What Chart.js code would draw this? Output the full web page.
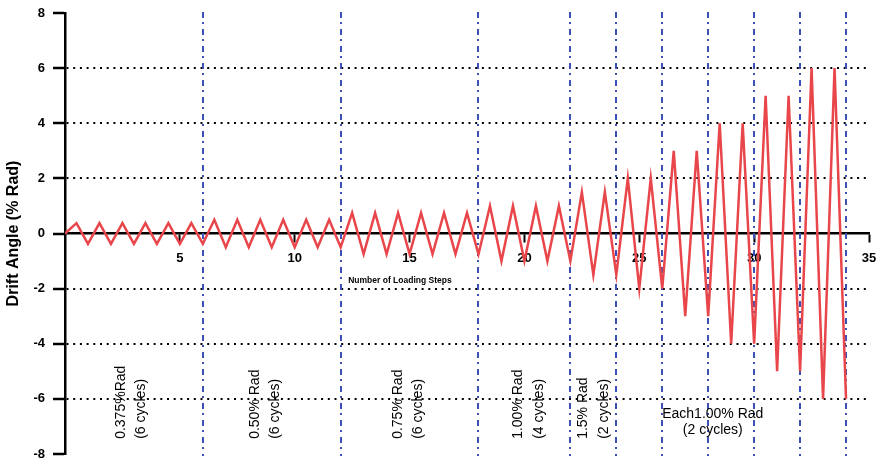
<!DOCTYPE html>
<html>
<head>
<meta charset="utf-8">
<script src="https://cdn.jsdelivr.net/npm/chart.js@4"></script>
<style>
  html, body { margin: 0; padding: 0; background: #fff; }
  #wrap { width: 877px; height: 461px; }
</style>
</head>
<body>
<div id="wrap"><canvas id="c" width="877" height="461"></canvas></div>
<script>
// Loading step positions (x) and drift angle (% rad) at each step turn point
const steps = [
  0, 0.5, 1, 1.5, 2, 2.5, 3, 3.5, 4, 4.5, 5, 5.5, 6,
  6.5, 7, 7.5, 8, 8.5, 9, 9.5, 10, 10.5, 11, 11.5, 12,
  12.5, 13, 13.5, 14, 14.5, 15, 15.5, 16, 16.5, 17, 17.5, 18,
  18.5, 19, 19.5, 20, 20.5, 21, 21.5, 22,
  22.5, 23, 23.5, 24,
  24.5, 25, 25.5, 26,
  26.5, 27, 27.5, 28,
  28.5, 29, 29.5, 30,
  30.5, 31, 31.5, 32,
  32.5, 33, 33.5, 34
];
const drift = [
  0, 0.375, -0.375, 0.375, -0.375, 0.375, -0.375, 0.375, -0.375, 0.375, -0.375, 0.375, -0.375,
  0.5, -0.5, 0.5, -0.5, 0.5, -0.5, 0.5, -0.5, 0.5, -0.5, 0.5, -0.5,
  0.75, -0.75, 0.75, -0.75, 0.75, -0.75, 0.75, -0.75, 0.75, -0.75, 0.75, -0.75,
  1.0, -1.0, 1.0, -1.0, 1.0, -1.0, 1.0, -1.0,
  1.5, -1.5, 1.5, -1.5,
  2, -2, 2, -2,
  3, -3, 3, -3,
  4, -4, 4, -4,
  5, -5, 5, -5,
  6, -6, 6, -6
];
// Boundaries between loading groups (loading step numbers)
const groupBoundaries = [6, 12, 18, 22, 24, 26, 28, 30, 32, 34];
// Axis ticks
const xTicks = [5, 10, 15, 20, 25, 30, 35];
const yTicks = [-8, -6, -4, -2, 0, 2, 4, 6, 8];
const dottedGridValues = [-6, -4, -2, 2, 4, 6];
// Group labels (rotated)
const groupLabels = [
  ['0.375%Rad', '(6 cycles)'],
  ['0.50% Rad', '(6 cycles)'],
  ['0.75% Rad', '(6 cycles)'],
  ['1.00% Rad', '(4 cycles)'],
  ['1.5% Rad', '(2 cycles)']
];
const finalLabel = ['Each1.00% Rad', '(2 cycles)'];
const xTitle = 'Number of Loading Steps';
const yTitle = 'Drift Angle (% Rad)';

const FONT = 'Liberation Sans, Arial, Helvetica, sans-serif';

// label anchor positions in data units (placement only)
const groupLabelX = [[2.46, 3.33], [8.27, 9.14], [14.5, 15.37], [19.72, 20.64], [22.55, 23.47]];
const groupLabelBottom = -7.45;

function zeroPad(s) {
  s.paddingLeft = 0; s.paddingRight = 0; s.paddingTop = 0; s.paddingBottom = 0;
}

const overlay = {
  id: 'overlay',
  beforeDatasetsDraw(chart) {
    const { ctx, chartArea, scales: { x, y } } = chart;
    ctx.save();
    ctx.strokeStyle = '#3d50b4';
    ctx.lineWidth = 2;
    ctx.setLineDash([6, 4, 2, 5]);
    groupBoundaries.forEach(v => {
      const px = Math.round(x.getPixelForValue(v));
      ctx.beginPath();
      ctx.moveTo(px, chartArea.top - 1);
      ctx.lineTo(px, chartArea.bottom + 2);
      ctx.stroke();
    });
    ctx.restore();
  },
  afterDatasetsDraw(chart) {
    const { ctx, scales: { x, y } } = chart;
    ctx.save();
    ctx.fillStyle = '#000';
    // rotated group labels
    ctx.font = '14px ' + FONT;
    ctx.textAlign = 'left';
    ctx.textBaseline = 'middle';
    groupLabels.forEach((lines, i) => {
      lines.forEach((t, j) => {
        const px = x.getPixelForValue(groupLabelX[i][j]);
        const py = y.getPixelForValue(groupLabelBottom);
        ctx.save();
        ctx.translate(px, py);
        ctx.rotate(-Math.PI / 2);
        ctx.fillText(t, 0, 0);
        ctx.restore();
      });
    });
    // final horizontal label
    ctx.textAlign = 'center';
    ctx.fillText(finalLabel[0], x.getPixelForValue(28.2), y.getPixelForValue(-6.55));
    ctx.fillText(finalLabel[1], x.getPixelForValue(28.2), y.getPixelForValue(-7.13));
    // x axis title
    ctx.font = 'bold 8.5px ' + FONT;
    ctx.fillText(xTitle, x.getPixelForValue(14.58), y.getPixelForValue(-1.71));
    ctx.restore();
  }
};

new Chart(document.getElementById('c'), {
  type: 'scatter',
  data: {
    datasets: [{
      data: steps.map((s, i) => ({ x: s, y: drift[i] })),
      showLine: true,
      borderColor: '#e8464a',
      borderWidth: 2.5,
      pointRadius: 0,
      tension: 0,
      fill: false
    }]
  },
  options: {
    responsive: false,
    animation: false,
    devicePixelRatio: 1,
    layout: { padding: { left: 0, right: 8, top: 13, bottom: 7 } },
    plugins: { legend: { display: false }, tooltip: { enabled: false } },
    scales: {
      x: {
        type: 'linear',
        position: { y: 0 },
        min: 0,
        max: 35,
        afterBuildTicks: s => { s.ticks = [0].concat(xTicks).map(v => ({ value: v })); },
        afterFit: s => { s.height = 0; zeroPad(s); },
        ticks: {
          callback: v => (v === 0 ? '' : String(v)),
          font: { family: FONT, size: 13, weight: 'bold' },
          color: '#000',
          padding: 9,
          maxRotation: 0,
          autoSkip: false
        },
        grid: {
          drawOnChartArea: false,
          drawTicks: true,
          tickLength: 8,
          tickWidth: 2,
          tickColor: c => (c.tick && c.tick.value === 0 ? 'rgba(0,0,0,0)' : '#000')
        },
        border: { display: true, color: '#000', width: 2.5 }
      },
      y: {
        type: 'linear',
        position: 'left',
        min: -8,
        max: 8,
        afterBuildTicks: s => { s.ticks = yTicks.map(v => ({ value: v })); },
        afterFit: s => { s.width = 65; zeroPad(s); },
        ticks: {
          font: { family: FONT, size: 13, weight: 'bold' },
          color: '#000',
          padding: 8
        },
        grid: {
          color: c => (c.tick && dottedGridValues.includes(c.tick.value) ? '#000' : 'rgba(0,0,0,0)'),
          lineWidth: 2,
          drawTicks: true,
          tickLength: 12,
          tickWidth: 2.5,
          tickColor: '#000'
        },
        border: { display: true, color: '#000', width: 2.5, dash: [2, 4.7] },
        title: {
          display: true,
          text: yTitle,
          color: '#000',
          font: { family: FONT, size: 16, weight: 'bold' },
          padding: { top: 4, bottom: 0 }
        }
      }
    }
  },
  plugins: [overlay]
});
</script>
</body>
</html>
